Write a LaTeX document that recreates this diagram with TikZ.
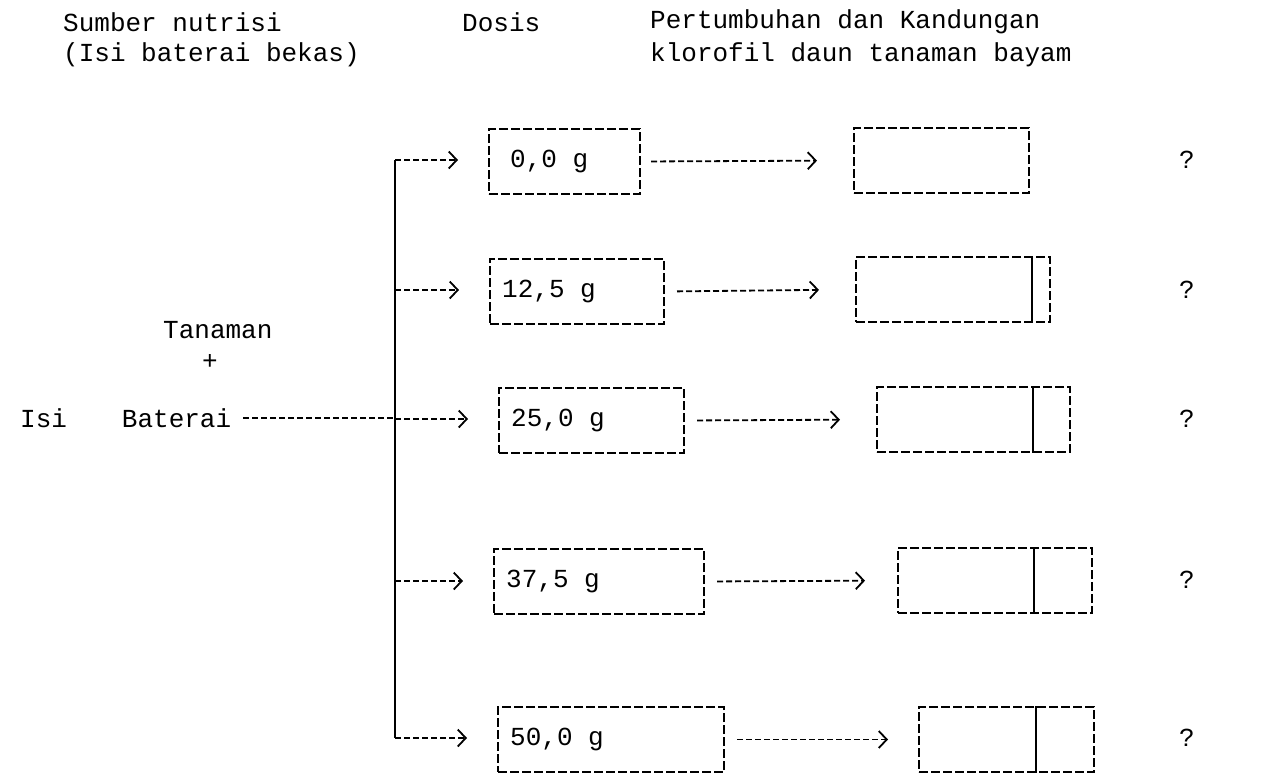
\documentclass[tikz,border=0pt]{standalone}
\usepackage{fontspec}
\setmonofont{Liberation Mono}
\usetikzlibrary{arrows.meta,calc}
\begin{document}
\begin{tikzpicture}[x=1pt,y=-1pt,
  every node/.style={font=\ttfamily\fontsize{26}{30}\selectfont, inner sep=0pt},
  dbox/.style={draw, dash pattern=on 9pt off 3pt, line width=2pt, anchor=north west, minimum height=65pt},
  conn/.style={dash pattern=on 6pt off 3pt, line width=1.8pt,
    -{Straight Barb[length=8pt,width=17pt,line width=1.8pt]}},
  plain/.style={line width=2pt}
]
\useasboundingbox (0,0) rectangle (1268,777);

% headers
\node[anchor=west] (h1) at (63,22) {Sumber nutrisi};
\node[anchor=west] (h2) at (63,55) {(Isi baterai bekas)};
\node[anchor=west] (h3) at (462,22) {Dosis};
\node[anchor=west] (h4) at (650,22) {Pertumbuhan dan Kandungan};
\node[anchor=west] (h5) at (650,55) {klorofil daun tanaman bayam};

% left
\node[anchor=west] (tan) at (163,330) {Tanaman};
\node (plus) at (210,362) {+};
\node[anchor=west] (ib) at (20,418) {Isi\hspace{55pt}Baterai};

% dose boxes
\node[dbox, minimum width=151pt] (d1) at (488,128) {};
\node[dbox, minimum width=174pt] (d2) at (489,258) {};
\node[dbox, minimum width=185pt] (d3) at (498,387) {};
\node[dbox, minimum width=210pt] (d4) at (493,548) {};
\node[dbox, minimum width=226pt] (d5) at (497,706) {};
\node[anchor=west] (t1) at ($(d1.west)+(22,0)$) {0,0 g};
\node[anchor=west] (t2) at ($(d2.west)+(13,0)$) {12,5 g};
\node[anchor=west] (t3) at ($(d3.west)+(13,0)$) {25,0 g};
\node[anchor=west] (t4) at ($(d4.west)+(13,0)$) {37,5 g};
\node[anchor=west] (t5) at ($(d5.west)+(13,0)$) {50,0 g};

% result boxes
\node[dbox, minimum width=175pt] (r1) at (853,127) {};
\node[dbox, minimum width=194pt] (r2) at (855,256) {};
\node[dbox, minimum width=193pt] (r3) at (876,386) {};
\node[dbox, minimum width=194pt] (r4) at (897,547) {};
\node[dbox, minimum width=175pt] (r5) at (918,706) {};
\draw[plain] ($(r2.north east)+(-19,0)$) -- ($(r2.south east)+(-19,0)$);
\draw[plain] ($(r3.north east)+(-38,0)$) -- ($(r3.south east)+(-38,0)$);
\draw[plain] ($(r4.north east)+(-59,0)$) -- ($(r4.south east)+(-59,0)$);
\draw[plain] ($(r5.north east)+(-59,0)$) -- ($(r5.south east)+(-59,0)$);

% question marks
\node (q1) at (1187,160) {?};
\node (q2) at (1187,290) {?};
\node (q3) at (1187,419) {?};
\node (q4) at (1187,580) {?};
\node (q5) at (1187,738) {?};

% trunk
\coordinate (b1) at (395,160);
\coordinate (b2) at (395,290);
\coordinate (b3) at (395,419);
\coordinate (b4) at (395,581);
\coordinate (b5) at (395,738);
\draw[plain] (b1) -- (b5);
\draw[dash pattern=on 6pt off 3pt, line width=1.8pt, shorten <=12pt] (ib.east) -- (ib.east -| b3);

\foreach \i in {1,...,5} {
  \draw[conn, shorten >=30pt] (b\i) -- (d\i.west |- b\i);
}
\draw[conn, shorten <=10pt, shorten >=36pt] (d1.east) -- (r1.west);
\draw[conn, shorten <=12pt, shorten >=36pt] (d2.east) -- (r2.west);
\draw[conn, shorten <=12pt, shorten >=36pt] (d3.east) -- (r3.west);
\draw[conn, shorten <=12pt, shorten >=32pt] (d4.east) -- (r4.west);
\draw[conn, shorten <=12pt, shorten >=30pt] (d5.east) -- (r5.west);
\end{tikzpicture}
\end{document}
